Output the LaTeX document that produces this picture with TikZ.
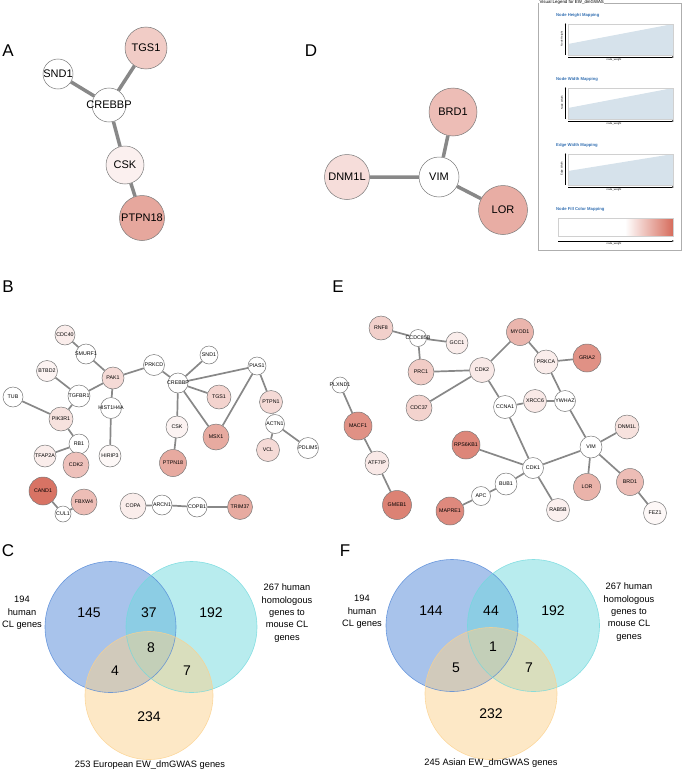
\documentclass[tikz,border=0pt]{standalone}
\usepackage{fontspec}
\setmainfont{Liberation Sans}
\usetikzlibrary{arrows.meta,positioning,backgrounds}
\definecolor{GeneRed}{RGB}{214,108,92}
\definecolor{EdgeGray}{RGB}{136,136,136}
\definecolor{RimGray}{RGB}{120,120,120}
\definecolor{LegendBlue}{RGB}{52,112,178}
\definecolor{PlotFill}{RGB}{214,226,235}
\definecolor{VennBlue}{RGB}{81,135,215}
\definecolor{VennCyan}{RGB}{113,217,221}
\definecolor{VennOrange}{RGB}{251,209,141}

\begin{document}
\begin{tikzpicture}[x=1pt,y=-1pt,>=Latex,
  gene/.style={circle,draw=RimGray,line width=0.5pt,fill=white,inner sep=0pt,minimum size=#1},
  link/.style={draw=EdgeGray,line width=1.7pt},
  fat/.style={draw=EdgeGray,line width=3.5pt},
  panel/.style={font=\fontsize{17}{20}\selectfont,inner sep=0pt},
  vnum/.style={font=\fontsize{14}{16}\selectfont,inner sep=0pt},
  vlab/.style={font=\fontsize{9.3}{12.3}\selectfont,align=center,inner sep=0pt},
  lghead/.style={font=\fontsize{4.2}{5}\selectfont\bfseries,text=LegendBlue,anchor=west,inner sep=0pt},
  lgtiny/.style={font=\fontsize{2.6}{3}\selectfont,inner sep=0pt},
  bigtag/.style={every label/.style={font=\fontsize{11}{13}\selectfont,inner sep=0pt}},
  smalltag/.style={every label/.style={font=\fontsize{5.3}{6}\selectfont,inner sep=0pt}}]
  \useasboundingbox (0,0) rectangle (685,771);

  % panel letters
  \node[panel] (la) at (8,51) {A};
  \node[panel] (ld) at (311,51) {D};
  \node[panel] (lb) at (8,287) {B};
  \node[panel] (le) at (338,287) {E};
  \node[panel] (lc) at (8,551) {C};
  \node[panel] (lf) at (345,551) {F};

  % A
  \begin{scope}[bigtag]
    \node[gene=30pt,label=center:SND1] (asnd) at (58,74) {};
    \node[gene=42pt,fill=GeneRed!35,label=center:TGS1] (atgs) at (146,48) {};
    \node[gene=34pt,label=center:CREBBP] (acreb) at (109,105) {};
    \node[gene=38pt,fill=GeneRed!10,label=center:CSK] (acsk) at (125,165) {};
    \node[gene=45pt,fill=GeneRed!60,label=center:PTPN18] (aptpn) at (142,218) {};
  \end{scope}
  \begin{scope}[on background layer]
    \draw[fat] (acreb)--(asnd) (acreb)--(atgs) (acreb)--(acsk) (acsk)--(aptpn);
  \end{scope}

  % D
  \begin{scope}[bigtag]
    \node[gene=48pt,fill=GeneRed!45,label=center:BRD1] (dbrd) at (453,112) {};
    \node[gene=45pt,fill=GeneRed!23,label=center:DNM1L] (ddnm) at (347,177) {};
    \node[gene=40pt,label=center:VIM] (dvim) at (439,177) {};
    \node[gene=49pt,fill=GeneRed!56,label=center:LOR] (dlor) at (503,210) {};
  \end{scope}
  \begin{scope}[on background layer]
    \draw[fat] (dvim)--(dbrd) (dvim)--(ddnm) (dvim)--(dlor);
  \end{scope}

  % legend
  \draw[RimGray!60,line width=0.6pt] (538,3) rectangle (681,250);
  \node[anchor=west,fill=white,inner sep=0.4pt,font=\fontsize{4.4}{5}\selectfont] (lgtitle) at (539,2.5) {Visual Legend for EW\_dmGWAS};
  \foreach \i/\yt/\yl/\ttl/\ax in {1/24/44/Node Height Mapping/Node Height,
      2/88/108/Node Width Mapping/Node Width,
      3/154/171/Edge Width Mapping/Edge Width}{
    \node[lghead] (hd\i) at (556,\yt-9) {\ttl};
    \fill[PlotFill] (568,\yt+31) -- (568,\yl) -- (673,\yt) -- (673,\yt+31) -- cycle;
    \draw[RimGray!35,line width=0.3pt] (568,\yt) rectangle (673,\yt+31);
    \draw[line width=0.3pt,-{Latex[length=2pt,width=1.4pt]}] (565.5,\yt+31) -- (565.5,\yt-1);
    \draw[line width=0.3pt,-{Latex[length=2pt,width=1.4pt]}] (568,\yt+33) -- (674,\yt+33);
    \node[lgtiny] (xl\i) at (614,\yt+36) {node\_weight};
    \node[lgtiny,rotate=90] (yl\i) at (562,\yt+15) {\ax};
  }
  \node[lghead] (hd4) at (556,209) {Node Fill Color Mapping};
  \fill[white] (558,218) rectangle (625,236);
  \shade[left color=white,right color=GeneRed] (625,218) rectangle (673,236);
  \draw[RimGray!35,line width=0.3pt] (558,218) rectangle (673,236);
  \draw[line width=0.3pt,-{Latex[length=2pt,width=1.4pt]}] (558,241) -- (674,241);
  \node[lgtiny] (xl4) at (614,244) {node\_weight};

  % B
  \begin{scope}[smalltag]
    \node[gene=20pt,fill=GeneRed!12,label=center:CDC40] (bcdc) at (65,335) {};
    \node[gene=20pt,label=center:SMURF1] (bsmurf) at (86,354) {};
    \node[gene=21pt,fill=GeneRed!8,label=center:BTBD2] (bbtbd) at (47,371) {};
    \node[gene=22pt,fill=GeneRed!25,label=center:PAK1] (bpak) at (113,378) {};
    \node[gene=21pt,label=center:PRKCD] (bprkcd) at (154,365) {};
    \node[gene=20pt,label=center:TUB] (btub) at (13,397) {};
    \node[gene=22pt,label=center:TGFBR1] (btgfbr) at (79,396) {};
    \node[gene=21pt,label=center:HIST1H4A] (bhist) at (111,408) {};
    \node[gene=24pt,fill=GeneRed!20,label=center:PIK3R1] (bpik) at (61,419) {};
    \node[gene=20pt,label=center:RB1] (brb) at (79,444) {};
    \node[gene=22pt,fill=GeneRed!12,label=center:TFAP2A] (btfap) at (45,456) {};
    \node[gene=22pt,fill=GeneRed!5,label=center:HIRIP3] (bhirip) at (110,456) {};
    \node[gene=26pt,fill=GeneRed!42,label=center:CDK2] (bcdk) at (76,465) {};
    \node[gene=28pt,fill=GeneRed!95,label=center:CAND1] (bcand) at (43,491) {};
    \node[gene=26pt,fill=GeneRed!45,label=center:FBXW4] (bfbxw) at (84,502) {};
    \node[gene=16pt,label=center:CUL1] (bcul) at (63,514) {};
    \node[gene=26pt,fill=GeneRed!12,label=center:COPA] (bcopa) at (133,506) {};
    \node[gene=20pt,label=center:ARCN1] (barcn) at (162,505) {};
    \node[gene=18pt,label=center:SND1] (bsnd) at (209,355) {};
    \node[gene=18pt,label=center:PIAS1] (bpias) at (257,366) {};
    \node[gene=20pt,label=center:CREBBP] (bcreb) at (178,383) {};
    \node[gene=24pt,fill=GeneRed!30,label=center:TGS1] (btgs) at (219,397) {};
    \node[gene=23pt,fill=GeneRed!25,label=center:PTPN1] (bptpn) at (271,402) {};
    \node[gene=22pt,fill=GeneRed!8,label=center:CSK] (bcsk) at (177,427) {};
    \node[gene=26pt,fill=GeneRed!58,label=center:MSX1] (bmsx) at (216,437) {};
    \node[gene=19pt,label=center:ACTN1] (bactn) at (275,424) {};
    \node[gene=23pt,fill=GeneRed!25,label=center:VCL] (bvcl) at (268,450) {};
    \node[gene=21pt,label=center:PDLIM5] (bpdlim) at (308,448) {};
    \node[gene=27pt,fill=GeneRed!58,label=center:PTPN18] (bptpnb) at (173,463) {};
    \node[gene=20pt,label=center:COPB1] (bcopb) at (197,507) {};
    \node[gene=25pt,fill=GeneRed!58,label=center:TRIM37] (btrim) at (240,507) {};
  \end{scope}
  \begin{scope}[on background layer]
    \draw[link] (bcdc)--(bsmurf) (bsmurf)--(bpak) (bpak)--(bprkcd) (bpak)--(btgfbr)
      (bpak)--(bhist) (bbtbd)--(btgfbr) (btgfbr)--(bpik) (btub)--(bpik) (bpik)--(brb)
      (brb)--(btfap) (brb)--(bcdk) (bhist)--(bhirip) (bcand)--(bcul) (bcul)--(bfbxw)
      (bcopa)--(barcn) (barcn)--(bcopb) (bcopb)--(btrim) (bprkcd)--(bcreb)
      (bcreb)--(bsnd) (bcreb)--(bpias) (bcreb)--(btgs) (bcreb)--(bcsk) (bcreb)--(bmsx)
      (bpias)--(bmsx) (bpias)--(bptpn) (bptpn)--(bactn) (bactn)--(bvcl) (bactn)--(bpdlim)
      (bcsk)--(bptpnb);
  \end{scope}

  % E
  \begin{scope}[smalltag]
    \node[gene=24pt,fill=GeneRed!32,label=center:RNF8] (ernf) at (381,328) {};
    \node[gene=17pt,label=center:CCDC85B] (eccdc) at (418,338) {};
    \node[gene=22pt,fill=GeneRed!12,label=center:GCC1] (egcc) at (457,343) {};
    \node[gene=26pt,fill=GeneRed!35,label=center:PRC1] (eprc) at (421,372) {};
    \node[gene=16pt,label=center:PLXND1] (eplx) at (340,385) {};
    \node[gene=26pt,fill=GeneRed!30,label=center:CDC37] (ecdc) at (419,408) {};
    \node[gene=28pt,fill=GeneRed!75,label=center:MACF1] (emacf) at (358,426) {};
    \node[gene=28pt,fill=GeneRed!82,label=center:RPS6KB1] (erps) at (466,445) {};
    \node[gene=24pt,fill=GeneRed!15,label=center:ATF7IP] (eatf) at (377,463) {};
    \node[gene=29pt,fill=GeneRed!85,label=center:GMEB1] (egmeb) at (397,505) {};
    \node[gene=28pt,fill=GeneRed!80,label=center:MAPRE1] (emap) at (450,511) {};
    \node[gene=27pt,fill=GeneRed!50,label=center:MYOD1] (emyod) at (520,332) {};
    \node[gene=24pt,fill=GeneRed!12,label=center:PRKCA] (eprkca) at (546,362) {};
    \node[gene=28pt,fill=GeneRed!75,label=center:GRIA2] (egria) at (587,358) {};
    \node[gene=25pt,fill=GeneRed!15,label=center:CDK2] (ecdk) at (482,370) {};
    \node[gene=23pt,label=center:CCNA1] (eccna) at (505,407) {};
    \node[gene=23pt,fill=GeneRed!15,label=center:XRCC6] (exrcc) at (535,401) {};
    \node[gene=21pt,label=center:YWHAZ] (eywhaz) at (565,401) {};
    \node[gene=24pt,fill=GeneRed!20,label=center:DNM1L] (ednm) at (627,427) {};
    \node[gene=22pt,label=center:VIM] (evim) at (591,447) {};
    \node[gene=21pt,label=center:CDK1] (ecdka) at (533,468) {};
    \node[gene=22pt,label=center:BUB1] (ebub) at (506,484) {};
    \node[gene=19pt,label=center:APC] (eapc) at (481,496) {};
    \node[gene=27pt,fill=GeneRed!52,label=center:LOR] (elor) at (587,487) {};
    \node[gene=27pt,fill=GeneRed!45,label=center:BRD1] (ebrd) at (630,482) {};
    \node[gene=23pt,fill=GeneRed!10,label=center:RAB5B] (erab) at (558,510) {};
    \node[gene=23pt,fill=GeneRed!5,label=center:FEZ1] (efez) at (655,513) {};
  \end{scope}
  \begin{scope}[on background layer]
    \draw[link] (ernf)--(eccdc) (eccdc)--(egcc) (eccdc)--(eprc) (eprc)--(ecdk)
      (ecdc)--(ecdk) (ecdk)--(emyod) (emyod)--(eprkca) (eprkca)--(egria)
      (eprkca)--(eywhaz) (ecdk)--(eccna) (eccna)--(exrcc) (exrcc)--(eywhaz)
      (eywhaz)--(evim) (eccna)--(ecdka) (evim)--(ecdka) (evim)--(ednm) (evim)--(elor)
      (evim)--(ebrd) (ebrd)--(efez) (ecdka)--(erps) (ecdka)--(ebub) (ebub)--(eapc)
      (ecdka)--(erab) (eapc)--(emap) (eplx)--(emacf) (emacf)--(eatf) (eatf)--(egmeb);
  \end{scope}

  % C
  \fill[VennBlue,fill opacity=0.5] (110.5,627) circle[radius=65.5pt];
  \fill[VennCyan,fill opacity=0.5] (191.5,627) circle[radius=65.5pt];
  \fill[VennOrange,fill opacity=0.5] (149,695.5) circle[radius=64pt];
  \draw[VennBlue,line width=0.6pt,opacity=0.8] (110.5,627) circle[radius=65.5pt];
  \draw[VennCyan,line width=0.6pt,opacity=0.8] (191.5,627) circle[radius=65.5pt];
  \draw[VennOrange,line width=0.6pt,opacity=0.8] (149,695.5) circle[radius=64pt];
  \node[vnum] (c145) at (89,613) {145};
  \node[vnum] (c37) at (149,613) {37};
  \node[vnum] (c192) at (211,613) {192};
  \node[vnum] (c8) at (151,648) {8};
  \node[vnum] (c4) at (115,671) {4};
  \node[vnum] (c7) at (187,671) {7};
  \node[vnum] (c234) at (149,717) {234};
  \node[vlab] (cleft) at (22,613) {194\\human\\CL genes};
  \node[vlab] (cright) at (287,613) {267 human\\homologous\\genes to\\mouse CL\\genes};
  \node[vlab] (cbottom) at (150,765) {253 European EW\_dmGWAS genes};

  % F
  \fill[VennBlue,fill opacity=0.5] (452,625.5) circle[radius=66pt];
  \fill[VennCyan,fill opacity=0.5] (533.5,625.5) circle[radius=66pt];
  \fill[VennOrange,fill opacity=0.5] (491,693.5) circle[radius=66pt];
  \draw[VennBlue,line width=0.6pt,opacity=0.8] (452,625.5) circle[radius=66pt];
  \draw[VennCyan,line width=0.6pt,opacity=0.8] (533.5,625.5) circle[radius=66pt];
  \draw[VennOrange,line width=0.6pt,opacity=0.8] (491,693.5) circle[radius=66pt];
  \node[vnum] (f144) at (431,611) {144};
  \node[vnum] (f44) at (491,611) {44};
  \node[vnum] (f192) at (553,611) {192};
  \node[vnum] (f1) at (493,647) {1};
  \node[vnum] (f5) at (456,668) {5};
  \node[vnum] (f7) at (529,668) {7};
  \node[vnum] (f232) at (491,714) {232};
  \node[vlab] (fleft) at (362,612) {194\\human\\CL genes};
  \node[vlab] (fright) at (629,612) {267 human\\homologous\\genes to\\mouse CL\\genes};
  \node[vlab] (fbottom) at (491,763) {245 Asian EW\_dmGWAS genes};
\end{tikzpicture}
\end{document}
